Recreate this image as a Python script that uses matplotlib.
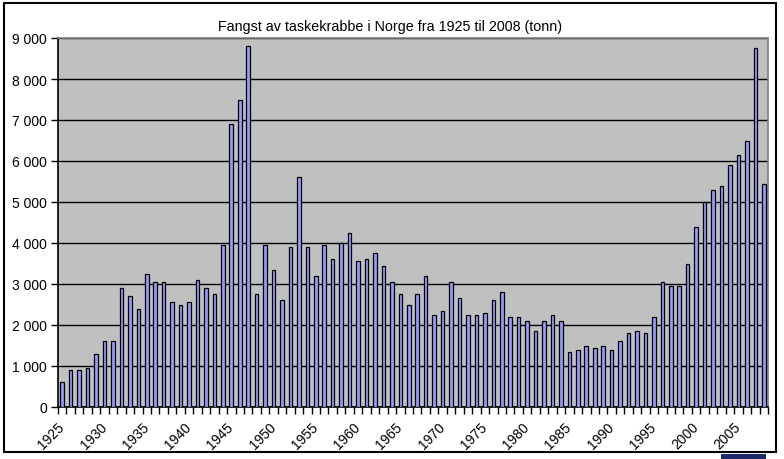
import matplotlib
matplotlib.use("Agg")
import matplotlib.pyplot as plt
from matplotlib.patches import Rectangle
from matplotlib.ticker import FuncFormatter, FixedLocator
from matplotlib.transforms import ScaledTranslation

plt.rcParams['font.family'] = ['Liberation Sans', 'DejaVu Sans']

years = list(range(1925, 2009))
catch = [
    600, 900, 900, 950, 1300, 1600, 1600, 2900, 2700, 2400,   # 1925-1934
    3250, 3050, 3050, 2550, 2500, 2550, 3100, 2900, 2750, 3950,  # 1935-1944
    6900, 7500, 8800, 2750, 3950, 3350, 2600, 3900, 5600, 3900,  # 1945-1954
    3200, 3950, 3600, 4000, 4250, 3550, 3600, 3750, 3450, 3050,  # 1955-1964
    2750, 2500, 2750, 3200, 2250, 2350, 3050, 2650, 2250, 2250,  # 1965-1974
    2300, 2600, 2800, 2200, 2200, 2100, 1850, 2100, 2250, 2100,  # 1975-1984
    1350, 1400, 1500, 1450, 1500, 1400, 1600, 1800, 1850, 1800,  # 1985-1994
    2200, 3050, 2950, 2950, 3500, 4400, 5000, 5300, 5400, 5900,  # 1995-2004
    6150, 6500, 8750, 5450,                                      # 2005-2008
]
label_years = list(range(1925, 2009, 5))
y_ticks = list(range(0, 9001, 1000))
title = "Fangst av taskekrabbe i Norge fra 1925 til 2008 (tonn)"

W, H = 784, 460
fig = plt.figure(figsize=(W / 100, H / 100), dpi=100)
fig.patch.set_facecolor('white')

ax = fig.add_axes([58 / W, 1 - 408 / H, (768 - 58) / W, (408 - 39) / H])
ax.set_facecolor('#C0C0C0')

x = list(range(len(years)))
ax.bar(x, catch, width=0.42, color='#9999FF', edgecolor='black', linewidth=0.9, zorder=3)

ax.set_xlim(-0.5, len(years) - 0.5)
ax.set_ylim(0, 9000)

# gridlines
ax.set_yticks(y_ticks)
ax.yaxis.set_major_formatter(FuncFormatter(lambda v, p: f"{int(v):,}".replace(",", " ")))
ax.yaxis.grid(True, color='black', linewidth=1.0, zorder=1)
ax.set_axisbelow(True)
ax.tick_params(axis='y', direction='out', length=5, width=1, color='black',
               labelsize=10, pad=3, labelcolor='black')

# x axis: labels at category centers every 5 years, ticks at category boundaries
pos_labels = [years.index(yr) for yr in label_years]
ax.xaxis.set_major_locator(FixedLocator(pos_labels))
ax.set_xticklabels([str(yr) for yr in label_years], rotation=45, ha='right',
                   va='top', rotation_mode='anchor', fontsize=10)
ax.tick_params(axis='x', which='major', length=0, pad=9)
shift = ScaledTranslation(-5 / 100, 0, fig.dpi_scale_trans)
for lab in ax.get_xticklabels():
    lab.set_transform(lab.get_transform() + shift)
ax.xaxis.set_minor_locator(FixedLocator([i - 0.5 for i in range(len(years) + 1)]))
ax.tick_params(axis='x', which='minor', direction='out', length=5, width=1, color='black')

for side in ['top', 'right']:
    ax.spines[side].set_color('#808080')
    ax.spines[side].set_linewidth(1.2)
for side in ['left', 'bottom']:
    ax.spines[side].set_color('black')
    ax.spines[side].set_linewidth(1.2)

fig.text(0.497, 1 - 27 / H, title, ha='center', va='center', fontsize=10.3)

# outer chart border
fig.patches.append(Rectangle((4 / W, 1 - 453 / H), (776 - 4) / W, (453 - 4) / H,
                             transform=fig.transFigure, fill=False,
                             edgecolor='black', linewidth=1.5))
# small dark tab at bottom right
fig.patches.append(Rectangle((721 / W, 0), (766 - 721) / W, 5 / H,
                             transform=fig.transFigure, facecolor='#1F2A6B',
                             edgecolor='none'))

fig.savefig('out.png', dpi=100)
